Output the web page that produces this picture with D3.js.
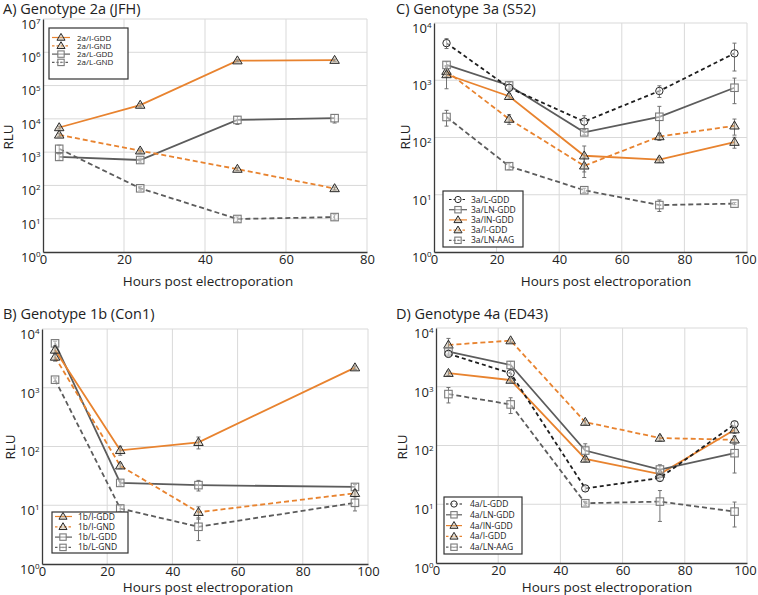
<!DOCTYPE html>
<html><head><meta charset="utf-8">
<script src="https://cdn.jsdelivr.net/npm/d3@7"></script>
<style>
body{margin:0;background:#fff}
svg{display:block}
text{font-family:"Open Sans","Lato",sans-serif;fill:#222}
</style>
</head><body>
<svg id="chart" width="758" height="595"></svg>
<script>
// ---------------- DATA ----------------
const hoursA = [4, 24, 48, 72];
const hoursB = [4, 24, 48, 96];
const hoursCD = [4, 24, 48, 72, 96];
const xTicksA = [0, 20, 40, 60, 80];
const xTicksBCD = [0, 20, 40, 60, 80, 100];

// Panel A: Genotype 2a (JFH)
const a_IGDD = [5500, 26000, 560000, 580000];
const a_IGDD_err = [500, 3000, 40000, 40000];
const a_IGND = [3300, 1100, 310, 81];
const a_IGND_err = [400, 150, 30, 8];
const a_LGDD = [720, 580, 9300, 10500];
const a_LGDD_err = [150, 80, 2500, 3000];
const a_LGND = [1260, 82, 9.8, 11.2];
const a_LGND_err = [350, 10, 1.5, 2];

// Panel B: Genotype 1b (Con1)
const b_IGDD = [4400, 86, 118, 2200];
const b_IGDD_err = [700, 15, 27, 150];
const b_IGND = [3340, 47, 7.6, 16];
const b_IGND_err = [500, 5, 1.8, 2];
const b_LGDD = [5700, 24, 22, 20.5];
const b_LGDD_err = [500, 2, 4.5, 2];
const b_LGND = [1370, 8.8, 4.3, 11];
const b_LGND_err = [100, 1, 1.8, 3];

// Panel C: Genotype 3a (S52)
const c_LGDD = [4450, 740, 190, 650, 2950];
const c_LGDD_err = [870, 100, 50, 150, 1500];
const c_LNGDD = [1850, 810, 123, 230, 740];
const c_LNGDD_err = [250, 120, 12, 120, 350];
const c_INGDD = [1260, 525, 48, 41, 83];
const c_INGDD_err = [550, 60, 23, 4, 18];
const c_IGDD = [1440, 210, 32, 104, 160];
const c_IGDD_err = [300, 40, 12, 15, 50];
const c_LNAAG = [228, 31.5, 12, 6.6, 7];
const c_LNAAG_err = [70, 4, 1, 1.5, 0.3];

// Panel D: Genotype 4a (ED43)
const d_LGDD = [3630, 1700, 18.6, 28, 230];
const d_LGDD_err = [400, 200, 2, 3, 25];
const d_LNGDD = [3980, 2350, 82, 39, 74];
const d_LNGDD_err = [400, 350, 25, 8, 40];
const d_INGDD = [1700, 1300, 59, 32.7, 186];
const d_INGDD_err = [150, 100, 6, 4, 25];
const d_IGDD = [5150, 6100, 250, 134, 125];
const d_IGDD_err = [1500, 400, 20, 15, 20];
const d_LNAAG = [750, 500, 10.4, 11.1, 7.5];
const d_LNAAG_err = [220, 150, 0.8, 6, 3.4];

// ---------------- STYLES ----------------
const ORANGE = "#e8832f";
const GRAY = "#5c5c5c";
const BLACK = "#1e1e1e";
const styles = {
  orangeSolid: {color: ORANGE, dash: null},
  orangeDash: {color: ORANGE, dash: "5,3"},
  graySolid: {color: GRAY, dash: null},
  grayDash: {color: GRAY, dash: "5,3"},
  blackDash: {color: BLACK, dash: "4,3"}
};

// ---------------- PANELS ----------------
const panels = [
  {title: "A) Genotype 2a (JFH)", l: 43, r: 367, t: 19, b: 252, xmax: 80, exp: 7, xticks: xTicksA,
   titleX: 3, titleY: 14, ylabX: 13, ylabY: 137, xlabX: 208, xlabY: 286,
   leg: {x: 49, y: 28, w: 79, h: 51, y0: 37.5, dy: 8.3, lx0: 52, lx1: 70, mx: 61, tx: 77, fs: 8},
   series: [
     {name: "2a/I-GDD", xs: hoursA, v: a_IGDD, e: a_IGDD_err, st: "orangeSolid", m: "tri"},
     {name: "2a/I-GND", xs: hoursA, v: a_IGND, e: a_IGND_err, st: "orangeDash", m: "tri"},
     {name: "2a/L-GDD", xs: hoursA, v: a_LGDD, e: a_LGDD_err, st: "graySolid", m: "sq"},
     {name: "2a/L-GND", xs: hoursA, v: a_LGND, e: a_LGND_err, st: "grayDash", m: "sqd"}
   ]},
  {title: "C) Genotype 3a (S52)", l: 434, r: 747, t: 23, b: 252, xmax: 100, exp: 4, xticks: xTicksBCD,
   titleX: 396, titleY: 14, ylabX: 410, ylabY: 137, xlabX: 606, xlabY: 286,
   leg: {x: 443, y: 191, w: 80, h: 56, y0: 199.5, dy: 10.2, lx0: 449, lx1: 467, mx: 458, tx: 471, fs: 8.5},
   series: [
     {name: "3a/L-GDD", xs: hoursCD, v: c_LGDD, e: c_LGDD_err, st: "blackDash", m: "circ"},
     {name: "3a/LN-GDD", xs: hoursCD, v: c_LNGDD, e: c_LNGDD_err, st: "graySolid", m: "sq"},
     {name: "3a/IN-GDD", xs: hoursCD, v: c_INGDD, e: c_INGDD_err, st: "orangeSolid", m: "tri"},
     {name: "3a/I-GDD", xs: hoursCD, v: c_IGDD, e: c_IGDD_err, st: "orangeDash", m: "tri"},
     {name: "3a/LN-AAG", xs: hoursCD, v: c_LNAAG, e: c_LNAAG_err, st: "grayDash", m: "sqd"}
   ]},
  {title: "B) Genotype 1b (Con1)", l: 42, r: 368, t: 329, b: 564, xmax: 100, exp: 4, xticks: xTicksBCD,
   titleX: 3, titleY: 319, ylabX: 15, ylabY: 447, xlabX: 208, xlabY: 592,
   leg: {x: 52, y: 512, w: 76, h: 41, y0: 516.5, dy: 10.3, lx0: 55, lx1: 72, mx: 63, tx: 78, fs: 8.5},
   series: [
     {name: "1b/I-GDD", xs: hoursB, v: b_IGDD, e: b_IGDD_err, st: "orangeSolid", m: "tri"},
     {name: "1b/I-GND", xs: hoursB, v: b_IGND, e: b_IGND_err, st: "orangeDash", m: "tri"},
     {name: "1b/L-GDD", xs: hoursB, v: b_LGDD, e: b_LGDD_err, st: "graySolid", m: "sq"},
     {name: "1b/L-GND", xs: hoursB, v: b_LGND, e: b_LGND_err, st: "grayDash", m: "sqd"}
   ]},
  {title: "D) Genotype 4a (ED43)", l: 436, r: 747, t: 328, b: 563, xmax: 100, exp: 4, xticks: xTicksBCD,
   titleX: 396, titleY: 319, ylabX: 407, ylabY: 447, xlabX: 607, xlabY: 592,
   leg: {x: 444, y: 497, w: 78, h: 57, y0: 504, dy: 10.8, lx0: 446, lx1: 462, mx: 454, tx: 470, fs: 8.5},
   series: [
     {name: "4a/L-GDD", xs: hoursCD, v: d_LGDD, e: d_LGDD_err, st: "blackDash", m: "circ"},
     {name: "4a/LN-GDD", xs: hoursCD, v: d_LNGDD, e: d_LNGDD_err, st: "graySolid", m: "sq"},
     {name: "4a/IN-GDD", xs: hoursCD, v: d_INGDD, e: d_INGDD_err, st: "orangeSolid", m: "tri"},
     {name: "4a/I-GDD", xs: hoursCD, v: d_IGDD, e: d_IGDD_err, st: "orangeDash", m: "tri"},
     {name: "4a/LN-AAG", xs: hoursCD, v: d_LNAAG, e: d_LNAAG_err, st: "grayDash", m: "sqd"}
   ]}
];

const svg = d3.select("#chart");

function drawMarker(g, type, cx, cy, scale) {
  const s = scale || 1;
  if (type === "tri") {
    const w = 9.5 * s, h = 8 * s;
    g.append("path")
      .attr("d", `M${cx},${cy - h * 0.6}L${cx + w / 2},${cy + h * 0.4}L${cx - w / 2},${cy + h * 0.4}Z`)
      .attr("fill", "rgba(190,175,150,0.45)").attr("stroke", "#2a2a2a").attr("stroke-width", 1);
  } else if (type === "sq" || type === "sqd") {
    const w = 7.5 * s;
    g.append("rect").attr("x", cx - w / 2).attr("y", cy - w / 2).attr("width", w).attr("height", w)
      .attr("fill", "rgba(255,255,255,0.45)").attr("stroke", "#7a7a7a").attr("stroke-width", 1.1);
  } else if (type === "circ") {
    g.append("circle").attr("cx", cx).attr("cy", cy).attr("r", 3.7 * s)
      .attr("fill", "rgba(255,255,255,0.5)").attr("stroke", "#2a2a2a").attr("stroke-width", 1);
  }
}

panels.forEach(p => {
  const g = svg.append("g");
  const x = d3.scaleLinear().domain([0, p.xmax]).range([p.l, p.r]);
  const y = d3.scaleLog().domain([1, Math.pow(10, p.exp)]).range([p.b, p.t]);
  const decades = d3.range(0, p.exp + 1).map(k => Math.pow(10, k));

  // grid
  g.append("g").selectAll("line").data(p.xticks.slice(1)).join("line")
    .attr("x1", d => x(d)).attr("x2", d => x(d)).attr("y1", p.t).attr("y2", p.b)
    .attr("stroke", "#d9d9d9").attr("stroke-width", 1);
  g.append("g").selectAll("line").data(decades.slice(1)).join("line")
    .attr("x1", p.l).attr("x2", p.r).attr("y1", d => y(d)).attr("y2", d => y(d))
    .attr("stroke", "#d9d9d9").attr("stroke-width", 1);

  // axes
  const xa = g.append("g").attr("transform", `translate(0,${p.b})`)
    .call(d3.axisBottom(x).tickValues(p.xticks).tickSize(0).tickSizeOuter(0).tickPadding(3).tickFormat(d3.format("d")));
  xa.select(".domain").attr("stroke", "#3a3a3a").attr("stroke-width", 1.3);
  xa.selectAll("text").attr("font-size", 13).attr("font-family", "Open Sans").attr("fill", "#222")
    .attr("dx", d => (x(d) + 12 > 757 ? -(x(d) + 12 - 757) : 0));

  const ya = g.append("g").attr("transform", `translate(${p.l},0)`)
    .call(d3.axisLeft(y).tickValues(decades).tickSize(0).tickSizeOuter(0).tickPadding(2.5).tickFormat(() => ""));
  ya.select(".domain").attr("stroke", "#3a3a3a").attr("stroke-width", 1.3);
  ya.selectAll(".tick text").each(function (d) {
    const t = d3.select(this).attr("font-size", 13).attr("font-family", "Open Sans").attr("fill", "#222")
      .attr("dy", "0.72em");
    t.append("tspan").text("10");
    t.append("tspan").attr("dy", "-0.6em").attr("font-size", 8).text(Math.round(Math.log10(d)));
  });

  // titles
  g.append("text").attr("x", p.titleX).attr("y", p.titleY).attr("font-size", 14.5).text(p.title);
  g.append("text").attr("transform", `translate(${p.ylabX},${p.ylabY}) rotate(-90)`)
    .attr("text-anchor", "middle").attr("font-size", 13.5).text("RLU");
  g.append("text").attr("x", p.xlabX).attr("y", p.xlabY).attr("text-anchor", "middle")
    .attr("font-size", 13.5).text("Hours post electroporation");

  // series lines
  const line = d3.line().x(d => x(d.x)).y(d => y(d.y));
  const order = p.series.slice().reverse();
  order.forEach(s => {
    const st = styles[s.st];
    const pts = s.xs.map((xx, i) => ({x: xx, y: s.v[i], e: s.e[i]}));
    g.append("path").datum(pts).attr("d", line).attr("fill", "none")
      .attr("stroke", st.color).attr("stroke-width", 1.8)
      .attr("stroke-dasharray", st.dash);
  });
  // error bars + markers
  order.forEach(s => {
    const pts = s.xs.map((xx, i) => ({x: xx, y: s.v[i], e: s.e[i]}));
    pts.forEach(d => {
      const lo = Math.max(d.y - d.e, 1.05), hi = d.y + d.e;
      const cx = x(d.x);
      const eg = g.append("g").attr("stroke", "#707070").attr("stroke-width", 1);
      eg.append("line").attr("x1", cx).attr("x2", cx).attr("y1", y(lo)).attr("y2", y(hi));
      eg.append("line").attr("x1", cx - 2).attr("x2", cx + 2).attr("y1", y(lo)).attr("y2", y(lo));
      eg.append("line").attr("x1", cx - 2).attr("x2", cx + 2).attr("y1", y(hi)).attr("y2", y(hi));
      drawMarker(g, s.m, cx, y(d.y), 1);
    });
  });

  // legend
  const L = p.leg;
  const lg = g.append("g");
  lg.append("rect").attr("x", L.x).attr("y", L.y).attr("width", L.w).attr("height", L.h)
    .attr("fill", "#fff").attr("stroke", "#333").attr("stroke-width", 1.2);
  p.series.forEach((s, i) => {
    const st = styles[s.st];
    const yy = L.y0 + i * L.dy;
    lg.append("line").attr("x1", L.lx0).attr("x2", L.lx1).attr("y1", yy).attr("y2", yy)
      .attr("stroke", st.color).attr("stroke-width", 1.2)
      .attr("stroke-dasharray", st.dash ? "2.5,2" : null);
    drawMarker(lg, s.m, L.mx, yy, 0.85);
    if (s.m === "sqd") lg.append("circle").attr("cx", L.mx).attr("cy", yy).attr("r", 0.8).attr("fill", "#777");
    lg.append("text").attr("x", L.tx).attr("y", yy + 3).attr("font-size", L.fs).attr("fill", "#333").text(s.name);
  });
});
</script>
</body></html>
